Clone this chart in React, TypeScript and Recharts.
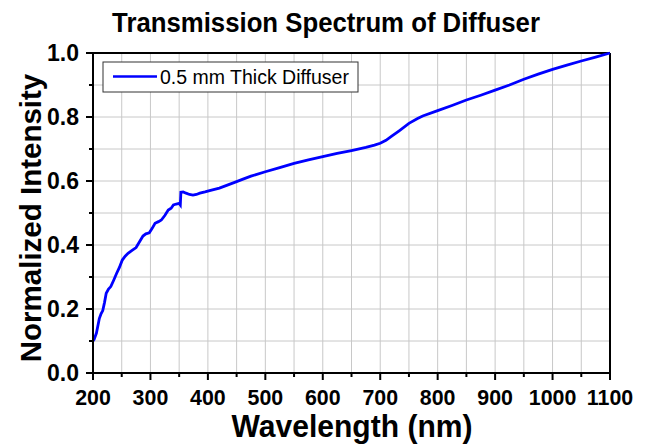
import React from "react";
import { LineChart, Line, XAxis, YAxis, CartesianGrid, ReferenceLine } from "recharts";

const wavelengths = [
  200, 202, 206, 211, 214, 217, 220, 223, 227, 231, 236, 241, 246, 251, 256, 261, 268, 275, 281, 287,
  292, 298, 303, 308, 314, 319, 325, 331, 336, 340, 345, 350, 352, 353, 357, 362, 368, 374, 380, 386,
  395, 403, 420, 435, 450, 460, 475, 500, 525, 550, 575, 600, 625, 650, 675, 690, 700, 710, 720, 733,
  750, 765, 774, 800, 825, 850, 875, 900, 925, 950, 975, 1000, 1025, 1050, 1075, 1100,
];
const intensities = [
  0.1, 0.105, 0.125, 0.17, 0.185, 0.195, 0.22, 0.249, 0.262, 0.27, 0.29, 0.311, 0.33, 0.353, 0.365, 0.374, 0.383, 0.392, 0.41, 0.428,
  0.435, 0.438, 0.452, 0.468, 0.473, 0.478, 0.492, 0.509, 0.515, 0.525, 0.528, 0.53, 0.525, 0.565, 0.566, 0.562, 0.558, 0.556, 0.558, 0.562,
  0.566, 0.57, 0.578, 0.588, 0.598, 0.605, 0.615, 0.629, 0.642, 0.655, 0.666, 0.676, 0.686, 0.695, 0.705, 0.712, 0.718, 0.727, 0.74, 0.757,
  0.78, 0.795, 0.803, 0.82, 0.836, 0.853, 0.868, 0.884, 0.9, 0.918, 0.934, 0.949, 0.962, 0.975, 0.987, 1.0,
];
const xTicks = [200, 250, 300, 350, 400, 450, 500, 550, 600, 650, 700, 750, 800, 850, 900, 950, 1000, 1050, 1100];
const yTicks = [0, 0.1, 0.2, 0.3, 0.4, 0.5, 0.6, 0.7, 0.8, 0.9, 1.0];
const seriesName = "0.5 mm Thick Diffuser";
const titleText = "Transmission Spectrum of Diffuser";
const xLabel = "Wavelength (nm)";
const yLabel = "Normalized Intensity";

const data = wavelengths.map((w, i) => ({ wl: w, v: intensities[i] }));

const FONT = "'Liberation Sans', Arial, Helvetica, sans-serif";

function XTick(props: any) {
  const { x, y, payload } = props;
  const v = payload.value;
  const major = v % 100 === 0;
  return (
    <g>
      <line x1={x} y1={y} x2={x} y2={y + (major ? 7 : 4)} stroke="#000" strokeWidth={2} />
      {major && (
        <text
          transform={`translate(${x},${y + 31.5}) scale(0.93,1)`}
          textAnchor="middle"
          fontSize={23}
          fontWeight="bold"
          fill="#000"
          fontFamily={FONT}
        >
          {v}
        </text>
      )}
    </g>
  );
}

function YTick(props: any) {
  const { x, y, payload } = props;
  const v = payload.value;
  const major = Math.round(v * 10) % 2 === 0;
  return (
    <g>
      <line x1={x} y1={y} x2={x - (major ? 7 : 4)} y2={y} stroke="#000" strokeWidth={2} />
      {major && (
        <text
          transform={`translate(${x - 14},${y + 8})`}
          textAnchor="end"
          fontSize={23}
          fontWeight="bold"
          fill="#000"
          fontFamily={FONT}
        >
          {v.toFixed(1)}
        </text>
      )}
    </g>
  );
}

export default function App() {
  return (
    <div style={{ position: "absolute", left: 0, top: 0, width: 652, height: 448, background: "#fff" }}>
      <LineChart width={652} height={448} data={data} margin={{ top: 53, right: 42, bottom: 0, left: 0 }}>
        <CartesianGrid stroke="#c8c8c8" strokeWidth={1} horizontal vertical />
        <XAxis
          dataKey="wl"
          type="number"
          domain={[200, 1100]}
          ticks={xTicks}
          interval={0}
          height={75}
          tickSize={0}
          tickMargin={0}
          tickLine={false}
          tick={<XTick />}
          axisLine={{ stroke: "#000", strokeWidth: 2 }}
        />
        <YAxis
          type="number"
          domain={[0, 1]}
          ticks={yTicks}
          interval={0}
          width={93}
          tickSize={0}
          tickMargin={0}
          tickLine={false}
          tick={<YTick />}
          axisLine={{ stroke: "#000", strokeWidth: 2 }}
        />
        <ReferenceLine y={1} stroke="#000" strokeWidth={2} />
        <ReferenceLine x={1100} stroke="#000" strokeWidth={2} />
        <Line
          type="linear"
          dataKey="v"
          name={seriesName}
          stroke="#0000ff"
          strokeWidth={2.8}
          dot={false}
          isAnimationActive={false}
        />
      </LineChart>
      <svg
        width={652}
        height={448}
        style={{ position: "absolute", left: 0, top: 0, pointerEvents: "none" }}
      >
        <text
          transform="translate(326,32) scale(0.92,1)"
          textAnchor="middle"
          fontSize={28}
          fontWeight="bold"
          fill="#000"
          fontFamily={FONT}
        >
          {titleText}
        </text>
        <text
          transform="translate(352,437) scale(0.97,1)"
          textAnchor="middle"
          fontSize={31}
          fontWeight="bold"
          fill="#000"
          fontFamily={FONT}
        >
          {xLabel}
        </text>
        <text
          transform="translate(41,218) rotate(-90)"
          textAnchor="middle"
          fontSize={29.5}
          fontWeight="bold"
          fill="#000"
          fontFamily={FONT}
        >
          {yLabel}
        </text>
        <rect x={103} y={62} width={255} height={30} fill="#fff" stroke="#333" strokeWidth={1} />
        <line x1={113} y1={76.5} x2={157} y2={76.5} stroke="#0000ff" strokeWidth={2.6} />
        <text x={160} y={84} fontSize={19.5} fill="#000" fontFamily={FONT}>
          {seriesName}
        </text>
      </svg>
    </div>
  );
}
